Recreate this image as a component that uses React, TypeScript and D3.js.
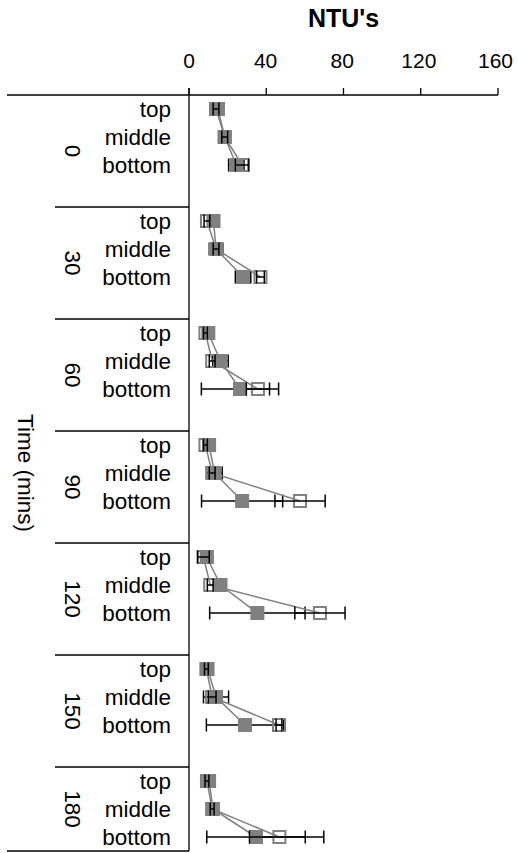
import React from "react";
import * as d3 from "d3";

const times = ["0", "30", "60", "90", "120", "150", "180"];
const positions = ["top", "middle", "bottom"];
const xTicks = [0, 40, 80, 120, 160];

// filled squares series (per time: top, middle, bottom)
const seriesA = [
  [15, 18.5, 24.5],
  [12.7, 14, 28],
  [10, 16.3, 26.4],
  [10.4, 13.2, 27.5],
  [9.2, 16.3, 35.4],
  [9.6, 14, 29],
  [10.4, 12.4, 34.7],
];
const errA = [
  [2, 2, 4],
  [1.5, 3.5, 4],
  [1.5, 4, 20],
  [1.5, 4, 21],
  [3, 3, 24.7],
  [1, 6.5, 20],
  [1, 1.5, 25.5],
];
// hollow squares series
const seriesB = [
  [14, 18.5, 27.5],
  [9.3, 14, 37],
  [8.5, 12, 35.7],
  [8.5, 12, 57.5],
  [7.5, 11, 67.8],
  [9, 12, 46.6],
  [9.3, 12, 46.8],
];
const errBPlus = [
  [1.5, 1.5, 3.5],
  [1.5, 1.5, 2],
  [1, 1.5, 6],
  [1, 1.5, 13],
  [3, 1.5, 13],
  [1, 2, 1.5],
  [1, 1, 23],
];
const errBMinus = [
  [1.5, 1.5, 3.5],
  [1.5, 1.5, 2],
  [1, 1.5, 6],
  [1, 1.5, 13],
  [3, 1.5, 13],
  [1, 2, 1.5],
  [1, 1, 15.5],
];

const W = 518;
const H = 853;
const FONT = "'Liberation Sans', Arial, sans-serif";

export default function App() {
  const x = d3.scaleLinear().domain([0, 160]).range([189, 498]);
  const nRows = times.length * 4 - 1;
  const y = d3.scaleLinear().domain([0, nRows]).range([95, 851]);
  const rowY = (g: number, p: number) => y(g * 4 + p + 0.5);
  const grey = "#808080";
  const sq = 14;
  const cap = 6.5;

  const lineGen = d3
    .line<[number, number]>()
    .x((d) => d[0])
    .y((d) => d[1]);

  const errBars = (vals: number[][], lo: number[][], hi: number[][], key: string) =>
    vals.map((grp, g) =>
      grp.map((v, p) => {
        const cy = rowY(g, p);
        const x1 = x(v - lo[g][p]);
        const x2 = x(v + hi[g][p]);
        return (
          <g key={`${key}-${g}-${p}`} stroke="#000" strokeWidth={1.5}>
            <line x1={x1} x2={x2} y1={cy} y2={cy} />
            <line x1={x1} x2={x1} y1={cy - cap} y2={cy + cap} />
            <line x1={x2} x2={x2} y1={cy - cap} y2={cy + cap} />
          </g>
        );
      })
    );

  const lines = (vals: number[][], key: string) =>
    vals.map((grp, g) => (
      <path
        key={`${key}-l-${g}`}
        d={lineGen(grp.map((v, p) => [x(v), rowY(g, p)]) as [number, number][]) || ""}
        fill="none"
        stroke={grey}
        strokeWidth={1.5}
      />
    ));

  return (
    <svg
      width={W}
      height={H}
      style={{ position: "absolute", left: 0, top: 0, background: "#fff" }}
      fontFamily={FONT}
    >
      <rect x={0} y={0} width={W} height={H} fill="#fff" />
      {/* title */}
      <text x={x(80)} y={27} textAnchor="middle" fontSize={25} fontWeight="bold">
        NTU's
      </text>
      {/* x ticks */}
      {xTicks.map((t) => (
        <g key={`t-${t}`}>
          <text x={x(t) - (t / 160) * 2.5} y={68} textAnchor="middle" fontSize={21}>
            {t}
          </text>
          <line x1={x(t)} x2={x(t)} y1={88} y2={95} stroke="#000" strokeWidth={1.3} />
        </g>
      ))}
      {/* axes */}
      <line x1={7} x2={x(160)} y1={95} y2={95} stroke="#000" strokeWidth={1.3} />
      <line x1={x(0)} x2={x(0)} y1={88} y2={851} stroke="#000" strokeWidth={1.3} />
      <line x1={7} x2={x(0)} y1={851} y2={851} stroke="#000" strokeWidth={1.3} />
      {times.slice(1).map((t, i) => (
        <line
          key={`sep-${t}`}
          x1={55}
          x2={x(0)}
          y1={y((i + 1) * 4)}
          y2={y((i + 1) * 4)}
          stroke="#000"
          strokeWidth={1.3}
        />
      ))}
      {/* category labels */}
      {times.map((t, g) =>
        positions.map((p, pi) => (
          <text
            key={`c-${g}-${pi}`}
            x={171}
            y={rowY(g, pi) + 8}
            textAnchor="end"
            fontSize={22.5}
          >
            {p}
          </text>
        ))
      )}
      {times.map((t, g) => {
        const end = Math.min(g * 4 + 4, nRows);
        const cy = y((g * 4 + end) / 2);
        return (
          <text
            key={`g-${t}`}
            transform={`translate(64.5,${cy}) rotate(90)`}
            textAnchor="middle"
            fontSize={22.5}
          >
            {t}
          </text>
        );
      })}
      <text
        transform={`translate(18,${y(nRows / 2)}) rotate(90)`}
        textAnchor="middle"
        fontSize={22.5}
      >
        Time (mins)
      </text>
      {/* data */}
      {errBars(seriesA, errA, errA, "ea")}
      {lines(seriesB, "b")}
      {seriesB.map((grp, g) =>
        grp.map((v, p) => (
          <rect
            key={`mb-${g}-${p}`}
            x={x(v) - sq / 2 + 1}
            y={rowY(g, p) - sq / 2 + 1}
            width={sq - 2}
            height={sq - 2}
            fill="none"
            stroke={grey}
            strokeWidth={2}
          />
        ))
      )}
      {lines(seriesA, "a")}
      {seriesA.map((grp, g) =>
        grp.map((v, p) => (
          <rect
            key={`ma-${g}-${p}`}
            x={x(v) - sq / 2}
            y={rowY(g, p) - sq / 2}
            width={sq}
            height={sq}
            fill={grey}
          />
        ))
      )}
      {errBars(seriesB, errBMinus, errBPlus, "eb")}
    </svg>
  );
}
